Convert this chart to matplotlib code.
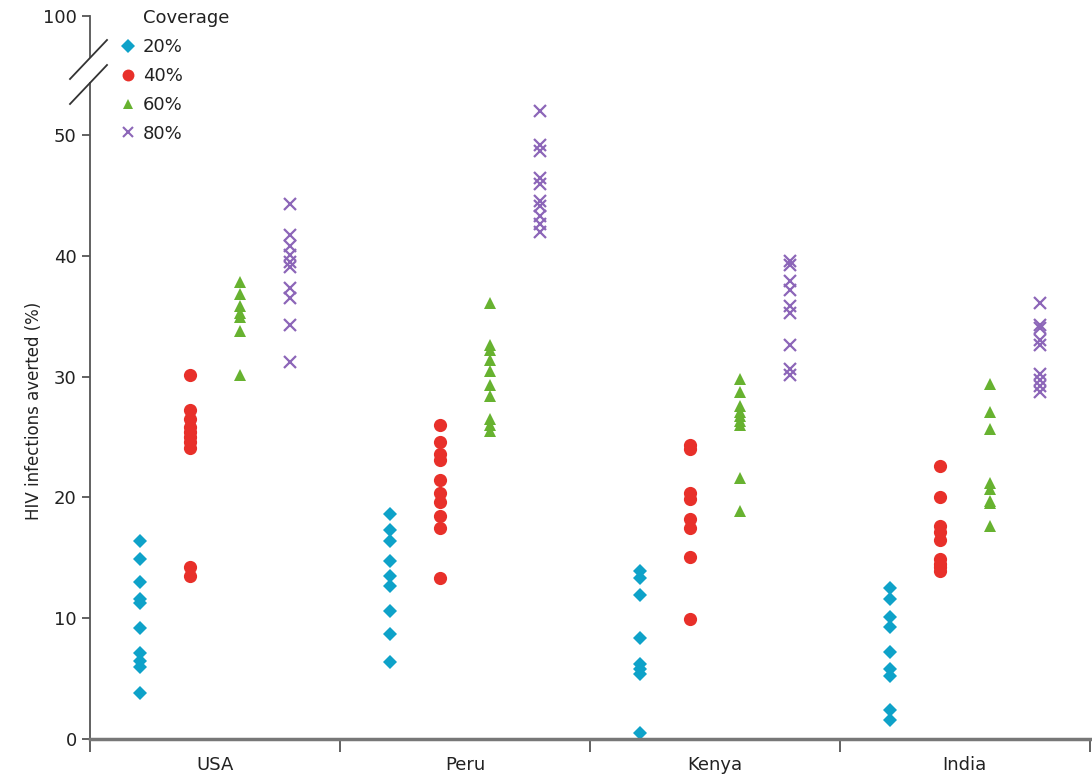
import matplotlib
matplotlib.use('Agg')
import matplotlib.pyplot as plt
from matplotlib.lines import Line2D

plt.rcParams['font.family'] = ['DejaVu Sans']

countries = ['USA', 'Peru', 'Kenya', 'India']
coverage_labels = ['20%', '40%', '60%', '80%']

# values per country, in the order of `countries`
cov_20 = [
    [16.4, 14.9, 13.0, 11.6, 11.3, 9.2, 7.1, 6.5, 6.0, 3.8],
    [18.6, 17.3, 16.4, 14.7, 13.5, 12.7, 10.6, 8.7, 6.4],
    [13.9, 13.3, 11.9, 8.4, 6.2, 5.8, 5.4, 0.5],
    [12.5, 11.6, 10.1, 9.3, 7.2, 5.8, 5.2, 2.4, 1.6],
]
cov_40 = [
    [30.1, 27.2, 26.5, 25.8, 25.4, 25.0, 24.6, 24.1, 14.2, 13.5],
    [26.0, 24.6, 23.6, 23.1, 21.4, 20.4, 19.6, 18.5, 17.5, 13.3],
    [24.3, 24.0, 20.4, 19.9, 18.2, 17.5, 15.1, 9.9],
    [22.6, 20.0, 17.6, 17.1, 16.5, 14.9, 14.5, 14.2, 13.9],
]
cov_60 = [
    [37.8, 36.8, 35.8, 35.3, 34.9, 33.8, 30.1],
    [36.1, 32.6, 32.2, 31.4, 30.5, 29.3, 28.4, 26.5, 26.0, 25.5],
    [29.8, 28.7, 27.6, 27.1, 26.7, 26.3, 26.0, 21.6, 18.9],
    [29.4, 27.1, 25.7, 21.2, 20.7, 19.7, 19.5, 17.6],
]
cov_80 = [
    [44.3, 41.7, 40.8, 40.1, 39.5, 39.1, 37.3, 36.5, 34.3, 31.2],
    [52.0, 49.2, 48.7, 46.4, 45.9, 44.5, 44.1, 43.3, 42.6, 42.0],
    [39.6, 39.2, 37.9, 37.2, 35.8, 35.3, 32.6, 30.6, 30.1],
    [36.1, 34.3, 34.0, 33.0, 32.6, 30.2, 29.7, 29.2, 28.7],
]

series = [cov_20, cov_40, cov_60, cov_80]
markers = ['D', 'o', '^', 'x']
sizes = [7.5, 9.5, 8.5, 8]
colors = ['#0ea2c9', '#e8302a', '#67b230', '#8c66b8']
offsets = [0.2, 0.4, 0.6, 0.8]
axis_grey = '#555555'

fig = plt.figure(figsize=(10.92, 7.79), dpi=100)
ax = fig.add_axes([0.0824, 0.0513, 0.9156, 0.8422])
ax_top = fig.add_axes([0.0824, 0.9268, 0.9156, 0.0527])

for values, marker, ms, color, off in zip(series, markers, sizes, colors, offsets):
    for i, pts in enumerate(values):
        ax.plot([i + off] * len(pts), pts, linestyle='none', marker=marker,
                ms=ms, color=color, mew=1.6 if marker == 'x' else 0)

ax.set_xlim(0, 4)
ax.set_ylim(0, 54.3)
ax.set_yticks([0, 10, 20, 30, 40, 50])
ax.set_xticks([0, 1, 2, 3, 4])
ax.set_xticklabels([])
ax.set_xticks([0.5, 1.5, 2.5, 3.5], minor=True)
ax.set_xticklabels(countries, minor=True)
ax.tick_params(axis='x', which='major', length=9, width=1.3, color=axis_grey)
ax.tick_params(axis='x', which='minor', length=0, pad=12, labelsize=13, labelcolor='#222222')
ax.tick_params(axis='y', length=6, width=1.3, color=axis_grey, labelsize=13,
               labelcolor='#222222')
for side in ['top', 'right']:
    ax.spines[side].set_visible(False)
ax.spines['left'].set_color(axis_grey)
ax.spines['left'].set_linewidth(1.3)
ax.spines['bottom'].set_color('#777777')
ax.spines['bottom'].set_linewidth(2.5)
ax.set_ylabel('HIV infections averted (%)', fontsize=12, color='#222222', labelpad=8)

ax_top.set_xlim(0, 4)
ax_top.set_ylim(96.6, 100)
ax_top.set_yticks([100])
ax_top.set_xticks([])
ax_top.tick_params(axis='y', length=6, width=1.3, color=axis_grey, labelsize=13,
                   labelcolor='#222222')
for side in ['top', 'right', 'bottom']:
    ax_top.spines[side].set_visible(False)
ax_top.spines['left'].set_color(axis_grey)
ax_top.spines['left'].set_linewidth(1.3)
ax_top.patch.set_alpha(0)

# break marks on the y axis
for y0 in [79, 104]:
    fig.add_artist(Line2D([70 / 1092, 107 / 1092], [1 - y0 / 779, 1 - (y0 - 39) / 779],
                          color='#333333', lw=1.3))

handles = [Line2D([], [], linestyle='none', marker=m, ms=s * 0.9, color=c,
                  mew=1.5 if m == 'x' else 0)
           for m, s, c in zip(markers, sizes, colors)]
fig.legend(handles, coverage_labels, loc='upper left', bbox_to_anchor=(112 / 1092, 1 - 31 / 779),
           frameon=False, fontsize=13, handlelength=1.0, handletextpad=0.3,
           labelspacing=0.6, borderaxespad=0, labelcolor='#222222')
fig.text(143 / 1092, 1 - 18 / 779, 'Coverage', fontsize=13, color='#222222', va='center')

fig.savefig('out.png', dpi=100)
